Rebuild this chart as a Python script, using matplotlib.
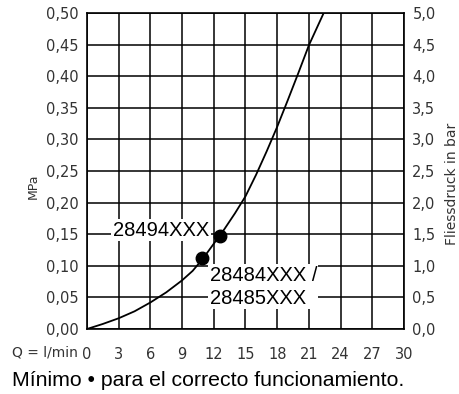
import matplotlib
matplotlib.use("Agg")
import matplotlib.pyplot as plt

# Data
flow_lpm = [0, 1.5, 3, 4.5, 6, 7.5, 9, 10, 11, 12, 13, 14, 15, 16, 17, 18, 19, 20, 21, 22.4]
pressure_mpa = [0, 0.008, 0.017, 0.028, 0.042, 0.058, 0.077, 0.092, 0.112, 0.135, 0.158,
                0.183, 0.21, 0.244, 0.281, 0.32, 0.362, 0.405, 0.449, 0.5]
point_q = [10.9, 12.6]
point_p = [0.113, 0.147]
x_ticks = [0, 3, 6, 9, 12, 15, 18, 21, 24, 27, 30]
y_ticks_mpa = [0.0, 0.05, 0.10, 0.15, 0.20, 0.25, 0.30, 0.35, 0.40, 0.45, 0.50]
y_ticks_bar = [0.0, 0.5, 1.0, 1.5, 2.0, 2.5, 3.0, 3.5, 4.0, 4.5, 5.0]
label_a = "28494XXX"
label_b = "28484XXX /\n28485XXX"

fig = plt.figure(figsize=(4.6, 3.94), dpi=100)
ax = fig.add_axes([87/460, 65/394, 317/460, 316/394])
ax.set_xlim(0, 30)
ax.set_ylim(0, 0.5)
ax.set_xticks(x_ticks)
ax.set_yticks(y_ticks_mpa)
ax.set_xticklabels([str(v) for v in x_ticks])
ax.set_yticklabels([f"{v:.2f}".replace(".", ",") for v in y_ticks_mpa])
ax.grid(True, color="black", lw=1.1, zorder=1)
ax.set_axisbelow(True)
for s in ax.spines.values():
    s.set_linewidth(1.2)
    s.set_zorder(5)
ax.tick_params(length=0, labelsize=10.5, colors="#333333", pad=6)
ax.tick_params(axis="x", pad=13)

ax.plot(flow_lpm, pressure_mpa, color="black", lw=1.3, zorder=4)
ax.plot(point_q, point_p, "o", color="black", ms=9, zorder=6)

ax.text(7.0, 0.156, label_a, ha="center", va="center", fontsize=14.5,
        family="Liberation Sans", zorder=3,
        bbox=dict(facecolor="white", edgecolor="none", pad=1.0))
ax.text(11.6, 0.067, label_b, ha="left", va="center", fontsize=14.5,
        family="Liberation Sans", linespacing=1.25, zorder=3,
        bbox=dict(facecolor="white", edgecolor="none", pad=1.0))

ax2 = ax.twinx()
ax2.set_ylim(0, 5)
ax2.set_yticks(y_ticks_bar)
ax2.set_yticklabels([f"{v:.1f}".replace(".", ",") for v in y_ticks_bar])
ax2.tick_params(length=0, labelsize=10.5, colors="#333333", pad=6)
for s in ax2.spines.values():
    s.set_visible(False)

fig.text(33/460, 1 - 186/394, "MPa", fontsize=9, color="#333333", rotation=90,
         ha="center", va="center")
fig.text(452/460, 1 - 184/394, "Fliessdruck in bar", fontsize=10, color="#333333",
         rotation=90, ha="center", va="center")
fig.text(12/460, 1 - 353/394, "Q = l/min", fontsize=10, color="#333333", va="center", ha="left")
fig.text(12/460, 1 - 381/394, "Mínimo • para el correcto funcionamiento.", fontsize=15.3,
         family="Liberation Sans", va="center", ha="left")

fig.savefig("out.png", dpi=100)
